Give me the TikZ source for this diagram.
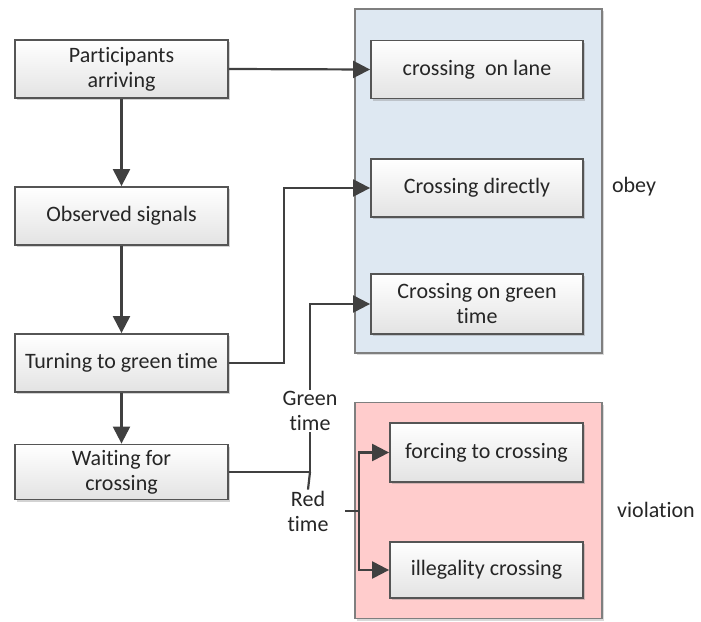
\documentclass[tikz,border=0pt]{standalone}
\usepackage{fontspec}
\setmainfont{Carlito}[RawFeature={-liga}]
\usetikzlibrary{arrows.meta,shadows}
\definecolor{lc}{HTML}{404040}
\definecolor{bdr}{HTML}{555555}
\definecolor{cbdr}{HTML}{7F7F7F}
\definecolor{bluef}{HTML}{DEE8F2}
\definecolor{redf}{HTML}{FFCCCC}
\definecolor{txt}{HTML}{262626}
\tikzset{
  box/.style={draw=bdr, line width=1.8pt, top color=white, bottom color=gray!22,
    drop shadow={shadow xshift=2pt,shadow yshift=-2pt,fill=gray,opacity=.35},
    minimum height=58pt, align=center, inner sep=1pt, text=txt},
  lbox/.style={box, minimum width=213pt},
  rbox/.style={box, minimum width=212pt},
  vbox/.style={box, minimum width=193pt},
  container/.style={draw=cbdr, line width=1.8pt,
    drop shadow={shadow xshift=2pt,shadow yshift=-2pt,fill=gray,opacity=.3}},
  conn/.style={draw=lc, line width=2.2pt},
  arr/.style={conn, -{Triangle[length=17pt,width=17pt]}},
  lab/.style={text=txt, align=center},
}
\begin{document}
\begin{tikzpicture}[x=1pt,y=-1pt,font=\fontsize{22}{25}\selectfont]
\useasboundingbox (0,0) rectangle (701,621);
% containers
\node[container, fill=bluef, minimum width=247pt, minimum height=344pt] (obeyc) at (478.5,181) {};
\node[container, fill=redf, minimum width=247pt, minimum height=216pt] (violc) at (478.5,510.5) {};
% left column
\node[lbox] (p) at (121.5,69) {Participants\\arriving};
\node[lbox] (o) at (121.5,216) {Observed signals};
\node[lbox] (t) at (121.5,363) {Turning to green time};
\node[lbox, minimum height=55pt] (w) at (121.5,472) {Waiting for\\crossing};
% obey boxes
\node[rbox] (a) at (477,69.5) {crossing\ \ on lane};
\node[rbox] (b) at (477,188) {Crossing directly};
\node[rbox, minimum height=60pt] (c) at (477,304) {Crossing on green\\time};
% violation boxes
\node[vbox, minimum height=59pt] (f) at (486.5,452.5) {forcing to crossing};
\node[vbox, minimum height=56pt] (il) at (486.5,570) {illegality crossing};
% side labels
\node[lab] (obey) at (634,187) {obey};
\node[lab] (viol) at (656,510) {violation};
% coordinates
\coordinate (tb) at (284,363);
\coordinate (j) at (310,472);
\coordinate (rs) at (345,511);
\coordinate (br) at (359,511);
% connectors
\draw[arr] (p) -- (o);
\draw[arr] (o) -- (t);
\draw[arr] (t) -- (w);
\draw[arr] (p.east) -- (a.west);
\draw[arr] (t.east) -- (tb) |- (b.west);
\draw[conn] (w.east) -- (j);
\draw[arr] (j) |- (c.west);
\node[lab, fill=white, inner sep=1pt] (gt) at (310,411) {Green\\time};
\node[lab, fill=white, inner sep=1pt] (rt) at (308,511) {Red\\time};
\draw[conn] (j) -- (rt.north);
\draw[conn] (rs) -- (br);
\draw[arr] (br) |- (f.west);
\draw[arr] (br) |- (il.west);
\end{tikzpicture}
\end{document}
